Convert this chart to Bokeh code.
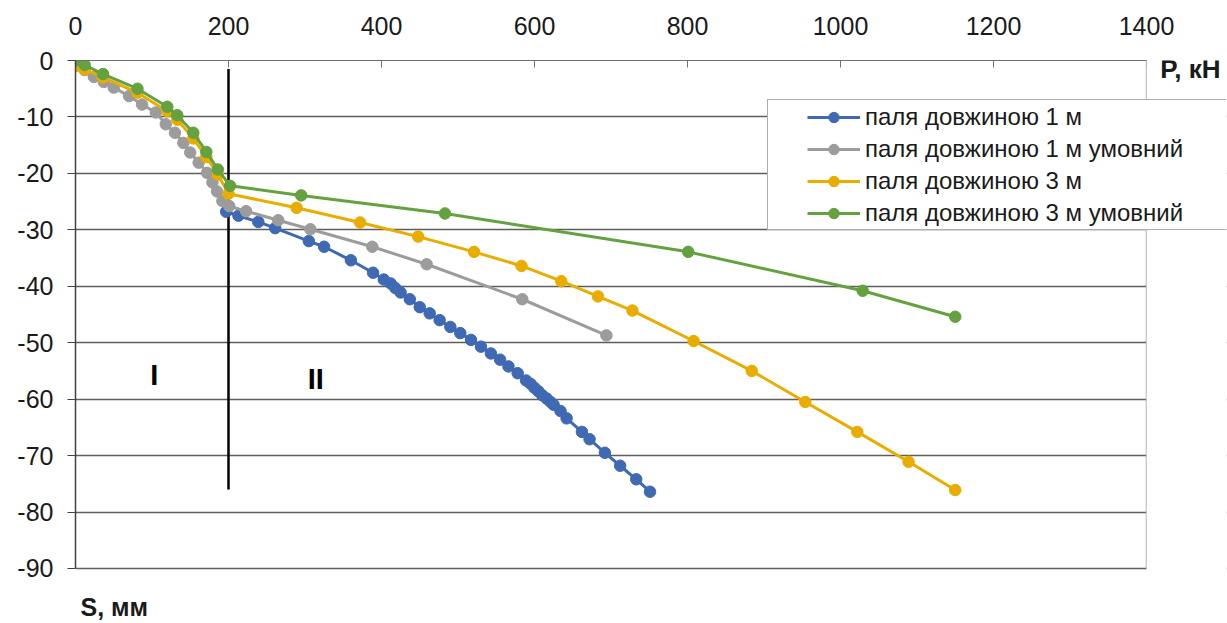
from bokeh.plotting import figure
from bokeh.models import (Range1d, Label, Legend, LegendItem, FixedTicker, BoxAnnotation)
from bokeh.embed import file_html
from bokeh.resources import INLINE
from bokeh.core.properties import value

# ---------------- data ----------------
series_names = ["паля довжиною 1 м", "паля довжиною 1 м умовний",
                "паля довжиною 3 м", "паля довжиною 3 м умовний"]
series_colors = ["#3F69B3", "#9C9C9C", "#E8AD00", "#64A13F"]

blue_load = [197, 213, 239, 261, 305, 325, 360, 389, 403, 412, 418, 425, 437, 450, 463,
             476, 490, 503, 517, 530, 543, 555, 566, 578, 589, 595, 600, 605, 610, 616,
             621, 625, 634, 642, 662, 672, 692, 712, 733, 751]
blue_s = [-26.8, -27.5, -28.6, -29.7, -32.0, -33.0, -35.4, -37.6, -38.8, -39.5, -40.3, -41.1,
          -42.3, -43.7, -44.8, -46.0, -47.2, -48.3, -49.5, -50.7, -51.9, -53.0, -54.2, -55.4,
          -56.7, -57.3, -58.0, -58.6, -59.3, -59.9, -60.5, -61.0, -62.1, -63.4, -65.8, -67.1,
          -69.5, -71.8, -74.2, -76.4]

gray_load = [0, 12, 24, 37, 50, 70, 87, 105, 118, 130, 141, 150, 161, 172, 179, 185, 192,
             201, 223, 265, 307, 388, 459, 584, 694]
gray_s = [-0.6, -1.7, -2.9, -3.8, -4.8, -6.3, -7.8, -9.2, -11.3, -12.8, -14.6, -16.3, -18.1,
          -19.9, -21.6, -23.2, -24.9, -25.8, -26.7, -28.3, -29.9, -33.0, -36.1, -42.3, -48.7]

yellow_load = [0, 12, 36, 81, 120, 133, 154, 171, 186, 200, 289, 372, 448, 521, 583, 635,
               683, 728, 808, 884, 954, 1022, 1089, 1150]
yellow_s = [-1.0, -1.6, -3.0, -5.7, -9.0, -10.5, -13.8, -17.1, -20.2, -23.6, -26.1, -28.7,
            -31.2, -33.9, -36.4, -39.1, -41.8, -44.3, -49.7, -55.0, -60.5, -65.8, -71.1, -76.1]

green_load = [0, 12, 36, 81, 120, 133, 154, 171, 186, 202, 295, 483, 801, 1029, 1150]
green_s = [0.0, -0.8, -2.4, -5.0, -8.2, -9.7, -12.8, -16.2, -19.3, -22.2, -23.9, -27.1,
           -33.9, -40.8, -45.4]

x_ticks = [0, 200, 400, 600, 800, 1000, 1200, 1400]
y_ticks = [0, -10, -20, -30, -40, -50, -60, -70, -80, -90]
y_tick_labels = ["0", "-10", "-20", "-30", "-40", "-50", "-60", "-70", "-80", "-90"]

zone_names = ["I", "II"]
zone_x = [103, 314]
zone_y = [-55.7, -56.4]

boundary_load = 200
boundary_top = -1.5
boundary_bottom = -76

x_title = "P, кН"
y_title = "S, мм"

X_MAX = 1400
Y_MIN = -90
X_VIEW = 1504.6      # frame stretched right so the legend / axis title can overhang the plot area
Y_VIEW = -99.57      # frame stretched down so the S axis title can sit below the plot area

FONT = "Liberation Sans"
TXT = "#1A1A1A"
BORDER = "#8C8C8C"

# ---------------- figure ----------------
p = figure(width=1227, height=623, output_backend="svg", toolbar_location=None,
           x_range=Range1d(0, X_VIEW), y_range=Range1d(Y_VIEW, 0), x_axis_location="above",
           min_border_left=75, min_border_right=1, min_border_top=60, min_border_bottom=1)
p.outline_line_color = None
p.background_fill_color = "white"
p.border_fill_color = "white"

xa = p.xaxis[0]
xa.ticker = FixedTicker(ticks=x_ticks)
xa.bounds = (0, X_MAX)
xa.major_tick_in = 7
xa.major_tick_out = 0
xa.minor_tick_line_color = None
xa.axis_line_color = "#707070"
xa.major_tick_line_color = "#707070"
xa.major_label_standoff = 26
xa.major_label_text_font = FONT
xa.major_label_text_font_size = "25px"
xa.major_label_text_color = TXT

ya = p.yaxis[0]
ya.ticker = FixedTicker(ticks=y_ticks)
ya.bounds = (Y_MIN, 0)
ya.major_label_overrides = {t: s for t, s in zip(y_ticks, y_tick_labels)}
ya.major_tick_in = 0
ya.major_tick_out = 8
ya.minor_tick_line_color = None
ya.axis_line_color = "#404040"
ya.axis_line_width = 1.5
ya.major_tick_line_color = "#404040"
ya.major_label_standoff = 14
ya.major_label_text_font = FONT
ya.major_label_text_font_size = "25px"
ya.major_label_text_color = TXT

p.xgrid.visible = False
p.ygrid.ticker = FixedTicker(ticks=y_ticks)
p.ygrid.grid_line_color = "#5E5E5E"
p.ygrid.grid_line_width = 1.3

# boundary line between zones
p.segment(x0=[boundary_load], y0=[boundary_top], x1=[boundary_load], y1=[boundary_bottom],
          line_color="black", line_width=2.5)

# series
all_data = [(blue_load, blue_s), (gray_load, gray_s), (yellow_load, yellow_s), (green_load, green_s)]
items = []
for (xs, ys), name, col in zip(all_data, series_names, series_colors):
    lr = p.line(xs, ys, line_color=col, line_width=3)
    sr = p.scatter(xs, ys, size=11.5, fill_color=col, line_color=col)
    items.append(LegendItem(label=name, renderers=[lr, sr]))

# zone labels
p.text(x=zone_x, y=zone_y, text=zone_names, text_font=value(FONT), text_font_size="29px",
       text_font_style="bold", text_align="center", text_baseline="middle", text_color="black")

# mask the stretched part of the frame beyond the plot area and draw its right border
p.add_layout(BoxAnnotation(left=X_MAX, fill_color="white", fill_alpha=1, line_alpha=0))
p.segment(x0=[X_MAX], y0=[0], x1=[X_MAX], y1=[Y_MIN], line_color=BORDER, line_width=1.3)

# axis titles
p.add_layout(Label(x=1418, y=-1.5, text=x_title, text_font=FONT, text_font_size="26px",
                   text_font_style="bold", text_baseline="middle", text_align="left",
                   text_color=TXT))
p.add_layout(Label(x=6.5, y=-96.8, text=y_title, text_font=FONT, text_font_size="25px",
                   text_font_style="bold", text_baseline="middle", text_align="left",
                   text_color=TXT))

# legend box (background + border)
dummy = p.line(x=[], y=[], line_alpha=0)
box = Legend(items=[LegendItem(label=" ", renderers=[dummy])], location=(692, 392),
             padding=0, margin=0, spacing=0, glyph_width=1, glyph_height=129,
             label_height=129, label_width=452, label_standoff=5, label_text_alpha=0,
             border_line_color="#595959", border_line_width=1,
             background_fill_color="white", background_fill_alpha=1)
p.add_layout(box, "center")

leg = Legend(items=items, location=(732, 395), orientation="vertical",
             padding=0, margin=0, spacing=4, glyph_width=53, glyph_height=26,
             label_height=26, label_standoff=5, label_text_font=FONT,
             label_text_font_size="24px", label_text_color=TXT,
             border_line_alpha=0, background_fill_alpha=0)
p.add_layout(leg, "center")

open("out.html", "w").write(file_html(p, INLINE))
